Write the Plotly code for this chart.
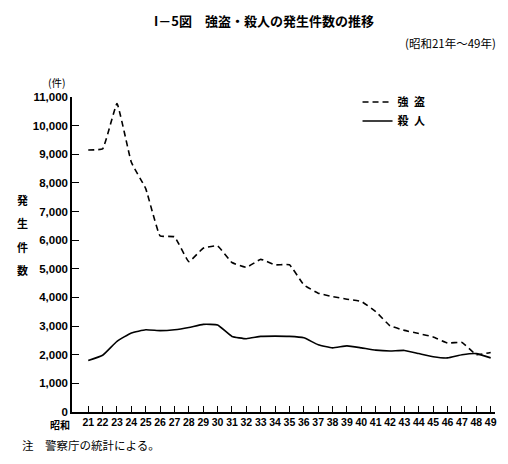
import plotly.graph_objects as go

# 昭和21年～49年
years = list(range(21, 50))
robbery = [9150, 9190, 10770, 8720, 7800, 6150, 6120, 5250, 5720, 5800,
           5220, 5050, 5330, 5140, 5140, 4440, 4150, 4030, 3940, 3860,
           3510, 3010, 2850, 2740, 2620, 2410, 2430, 2000, 2080]
murder = [1800, 1980, 2470, 2760, 2870, 2840, 2870, 2950, 3060, 3040,
          2640, 2560, 2640, 2650, 2640, 2590, 2350, 2240, 2310, 2240,
          2160, 2130, 2150, 2040, 1930, 1890, 2000, 2040, 1890]
yticks = list(range(0, 11001, 1000))

jp = "Noto Sans CJK JP"
num = "Liberation Sans"

fig = go.Figure()
fig.add_trace(go.Scatter(x=years, y=robbery, mode="lines", name="強\u2002盗",
                         line=dict(color="black", width=1.6, dash="6px,4px",
                                   shape="spline", smoothing=0.3)))
fig.add_trace(go.Scatter(x=years, y=murder, mode="lines", name="殺\u2002人",
                         line=dict(color="black", width=1.6,
                                   shape="spline", smoothing=0.4)))

fig.update_layout(
    width=508, height=464,
    margin=dict(l=72, r=11, t=97, b=52),
    paper_bgcolor="white", plot_bgcolor="white",
    showlegend=True,
    legend=dict(x=0.675, y=1.03, xanchor="left", yanchor="top",
                font=dict(family=jp, size=11, color="black", weight="bold"),
                bgcolor="rgba(0,0,0,0)", tracegroupgap=0),
    xaxis=dict(range=[19.87, 49.3], tickmode="array", tickvals=years,
               ticktext=[str(y) for y in years], tickangle=0,
               ticks="inside", ticklen=6, tickwidth=1, tickcolor="black",
               showline=True, linecolor="black", linewidth=1.5,
               showgrid=False, zeroline=False,
               tickfont=dict(family=num, size=10.5, color="black", weight="bold")),
    yaxis=dict(range=[0, 11000], tickmode="array", tickvals=yticks,
               tickformat=",d",
               ticks="inside", ticklen=7, tickwidth=1.2, tickcolor="black",
               showline=True, linecolor="black", linewidth=1.5,
               showgrid=False, zeroline=False,
               tickfont=dict(family=num, size=11.5, color="black", weight="bold")),
)

anns = [
    dict(text="<b>I－5図　強盗・殺人の発生件数の推移</b>", x=265, y=20, size=13),
    dict(text="(昭和21年～49年)", x=500, y=43, size=11.5, xanchor="right"),
    dict(text="(件)", x=57, y=83, size=10.5),
    dict(text="<b>昭和</b>", x=60, y=424, size=10),
    dict(text="注　警察庁の統計による。", x=20, y=445, size=11.5, xanchor="left"),
]
for ch, yy in zip("発生件数", [200, 223, 247, 270]):
    anns.append(dict(text="<b>" + ch + "</b>", x=22, y=yy, size=11))

for a in anns:
    fig.add_annotation(
        text=a["text"], xref="paper", yref="paper",
        x=(a["x"] - 72) / 425,
        y=(412 - a["y"]) / 315,
        xanchor=a.get("xanchor", "center"), yanchor="middle",
        showarrow=False,
        font=dict(family=jp, size=a["size"], color="black"))

fig.write_html("out.html", config={"displayModeBar": False},
               post_script="document.body.style.margin='0';")
